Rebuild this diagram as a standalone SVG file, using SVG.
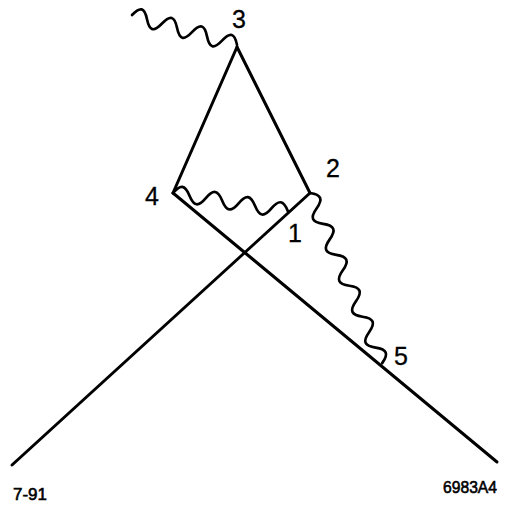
<svg xmlns="http://www.w3.org/2000/svg" width="507" height="507" viewBox="0 0 507 507">
<style>
.ln{fill:none;stroke:#000;stroke-width:3;stroke-linecap:round;stroke-linejoin:round}
.wv{fill:none;stroke:#000;stroke-width:2.7;stroke-linecap:round}
.lbl{font-family:"Liberation Sans",Arial,sans-serif;font-size:25px;fill:#000;stroke:#000;stroke-width:0.3}
.foot{font-family:"Liberation Sans",Arial,sans-serif;font-size:17px;fill:#000;stroke:#000;stroke-width:0.6}
</style>
<rect width="507" height="507" fill="#fff"/>
<g id="connectors">
<path class="ln" d="M237,47 L173,193"/>
<path class="ln" d="M237,47 L310,193"/>
<path class="ln" d="M173,193 L497,462"/>
<path class="ln" d="M310,193 L12,465"/>
</g>
<g id="photon-3">
<path class="wv" transform="translate(132,15) rotate(15.9)" d="M0,0 c5.6,-10.7 10,-10.7 15.6,0 s10,10.7 15.6,0 s10,-10.7 15.6,0 s10,10.7 15.6,0 s10,-10.7 15.6,0 s10,10.7 15.6,0 s10,-10.7 15.6,0"/>
</g>
<g id="photon-4-1">
<path class="wv" transform="translate(173,193) rotate(8.9)" d="M0,0 c6,-10 10.6,-10 16.6,0 s10.6,10 16.6,0 s10.6,-10 16.6,0 s10.6,10 16.6,0 s10.6,-10 16.6,0 s10.6,10 16.6,0 s10.6,-10 16.6,0"/>
</g>
<g id="photon-2-5">
<path class="wv" transform="translate(310,193) rotate(67)" d="M0,0 c6,-9.8 10.8,-9.8 16.8,0 s10.8,9.8 16.8,0 s10.8,-9.8 16.8,0 s10.8,9.8 16.8,0 s10.8,-9.8 16.8,0 s10.8,9.8 16.8,0 s10.8,-9.8 16.8,0 s10.8,9.8 16.8,0 s10.8,-9.8 16.8,0 s10.8,9.8 16.8,0 s10.8,-9.8 16.8,0"/>
</g>
<g id="labels">
<text class="lbl" x="232" y="28">3</text>
<text class="lbl" x="326" y="177">2</text>
<text class="lbl" x="145" y="205">4</text>
<text class="lbl" x="288" y="242">1</text>
<text class="lbl" x="394" y="365">5</text>
</g>
<g id="footer">
<text class="foot" x="13" y="500">7-91</text>
<text class="foot" x="443" y="493" textLength="54" lengthAdjust="spacingAndGlyphs">6983A4</text>
</g>
</svg>
